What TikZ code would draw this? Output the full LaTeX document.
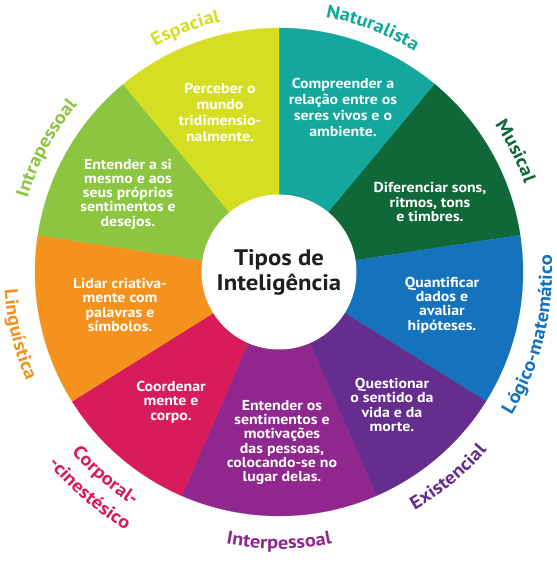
\documentclass[tikz,border=0pt]{standalone}
\usepackage{fontspec}
\setmainfont{PT Sans}[FakeStretch=1.1]
\usetikzlibrary{decorations.text}
\definecolor{cEsp}{HTML}{D6DE23}
\definecolor{cNat}{HTML}{14A79C}
\definecolor{cMus}{HTML}{106838}
\definecolor{cLog}{HTML}{1572BC}
\definecolor{cExi}{HTML}{652D8E}
\definecolor{cInt}{HTML}{8F278E}
\definecolor{cCor}{HTML}{D81C5B}
\definecolor{cLin}{HTML}{F5921E}
\definecolor{cIntra}{HTML}{8CC540}
\definecolor{cTitle}{HTML}{1E1E1E}
\newcommand\labfont{\fontsize{18.5}{18.5}\selectfont\bfseries}
\newcommand\toplabel[4]{\path[decorate,decoration={text along path,text align=center,text={|\labfont\color{#1}|#4}}] (#2+40:#3) arc[start angle=#2+40,end angle=#2-40,radius=#3];}
\newcommand\botlabel[4]{\path[decorate,decoration={text along path,text align=center,text={|\labfont\color{#1}|#4}}] (#2-40:#3) arc[start angle=#2-40,end angle=#2+40,radius=#3];}
\tikzset{
  desc/.style={text=white, align=center, inner sep=0pt, font=\fontsize{14.4}{14.3}\selectfont\bfseries},
  descbig/.style={desc, font=\fontsize{14.4}{16.2}\selectfont\bfseries},
  sector/.style={fill=#1, draw=#1, line width=0.2pt},
  title/.style={circle, fill=white, minimum size=155pt, inner sep=0pt, align=center, text=cTitle, font=\fontsize{22.5}{25}\selectfont\bfseries}
}
\begin{document}
\begin{tikzpicture}[x=1pt,y=1pt]
\useasboundingbox (-279,-292) rectangle (277,272);
\foreach \a/\b/\c in {90/50.3/cNat, 50.3/8.7/cMus, 8.7/-32/cLog, -32/-66.5/cExi, -66.5/-113.5/cInt, -113.5/-148/cCor, -148/-188.7/cLin, 171.3/129.7/cIntra, 129.7/90/cEsp}
  \path[sector=\c] (0,0) -- (\a:244pt) arc[start angle=\a, end angle=\b, radius=244pt] -- cycle;
\node[title] (center) at (0,0) {Tipos de\\Inteligência};
% descriptions
\node[descbig] (tEsp) at (-59,159.5) {Perceber o\\mundo\\tridimensio-\\nalmente.};
\node[descbig] (tNat) at (64,164.5) {Compreender a\\relação entre os\\seres vivos e o\\ambiente.};
\node[desc] (tMus) at (151,70) {Diferenciar sons,\\ritmos, tons\\e timbres.};
\node[desc] (tLog) at (163,-33) {Quantificar\\dados e\\avaliar\\hipóteses.};
\node[desc] (tExi) at (113,-133) {Questionar\\o sentido da\\vida e da\\morte.};
\node[desc] (tInt) at (3,-170.5) {Entender os\\sentimentos e\\motivações\\das pessoas,\\colocando-se no\\lugar delas.};
\node[desc] (tCor) at (-108,-130) {Coordenar\\mente e\\corpo.};
\node[desc] (tLin) at (-159,-33) {Lidar criativa-\\mente com\\palavras e\\símbolos.};
\node[desc] (tIntra) at (-151,78) {Entender a si\\mesmo e aos\\seus próprios\\sentimentos e\\desejos.};
% curved labels
\toplabel{cEsp}{111}{257pt}{Espacial}
\toplabel{cNat}{69}{259pt}{Naturalista}
\toplabel{cMus}{27}{261pt}{Musical}
\toplabel{cIntra}{152}{262pt}{Intrapessoal}
\botlabel{cLog}{-14}{273pt}{Lógico-matemático}
\botlabel{cExi}{-50.5}{274pt}{Existencial}
\botlabel{cInt}{-90}{277pt}{Interpessoal}
\botlabel{cCor}{-130.5}{275pt}{Corporal-}
\botlabel{cCor}{-130.5}{300pt}{-cinestésico}
\botlabel{cLin}{-166.5}{275pt}{Linguística}
\end{tikzpicture}
\end{document}
